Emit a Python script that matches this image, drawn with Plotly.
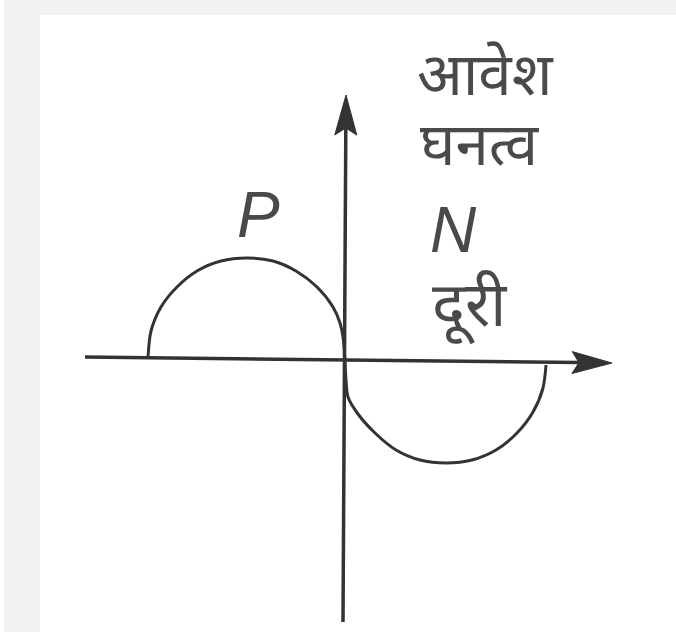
import plotly.graph_objects as go

# ---- data (distance units, charge density units; origin = junction) ----
p_dist = [-1.97, -1.94, -1.84, -1.68, -1.48, -1.24, -0.98, -0.72, -0.49, -0.28, -0.12, -0.05, -0.02, 0.0]
p_rho = [0.03, 0.29, 0.53, 0.73, 0.89, 0.99, 1.02, 0.99, 0.89, 0.73, 0.53, 0.37, 0.23, 0.0]

n_dist = [0.0, 0.01, 0.03, 0.13, 0.30, 0.51, 0.75, 1.01, 1.27, 1.51, 1.72, 1.88, 1.98, 2.01]
n_rho = [0.0, -0.20, -0.37, -0.54, -0.73, -0.90, -1.00, -1.03, -1.00, -0.90, -0.73, -0.52, -0.28, -0.05]

# axis end points (x axis: distance, y axis: charge density)
xaxis_start = (-2.60, 0.03)
xaxis_tip = (2.67, -0.03)
yaxis_start = (-0.02, -2.62)
yaxis_tip = (0.01, 2.65)

labels = {
    "density": ["आवेश", "घनत्व"],
    "distance": "दूरी",
    "p": "P",
    "n": "N",
}

LINE = "#333333"
TEXT = "#4a4a4a"

fig = go.Figure()


def arrow_head(tip, direction, length=0.40, half=0.11, notch=0.07):
    dx, dy = direction
    px, py = -dy, dx
    bx, by = tip[0] - dx * length, tip[1] - dy * length
    nx, ny = tip[0] - dx * (length - notch), tip[1] - dy * (length - notch)
    xs = [tip[0], bx + px * half, nx, bx - px * half, tip[0]]
    ys = [tip[1], by + py * half, ny, by - py * half, tip[1]]
    return xs, ys, (nx, ny)


def unit(a, b):
    vx, vy = b[0] - a[0], b[1] - a[1]
    d = (vx * vx + vy * vy) ** 0.5
    return vx / d, vy / d


for start, tip in [(xaxis_start, xaxis_tip), (yaxis_start, yaxis_tip)]:
    d = unit(start, tip)
    hx, hy, notch_pt = arrow_head(tip, d)
    fig.add_trace(go.Scatter(x=[start[0], notch_pt[0]], y=[start[1], notch_pt[1]],
                             mode="lines", line=dict(color=LINE, width=3.5),
                             hoverinfo="skip", showlegend=False))
    fig.add_trace(go.Scatter(x=hx, y=hy, mode="lines", fill="toself",
                             fillcolor=LINE, line=dict(color=LINE, width=1),
                             hoverinfo="skip", showlegend=False))

fig.add_trace(go.Scatter(x=p_dist, y=p_rho, mode="lines",
                         line=dict(color=LINE, width=3, shape="spline", smoothing=0.8),
                         hoverinfo="skip", showlegend=False))
fig.add_trace(go.Scatter(x=n_dist, y=n_rho, mode="lines",
                         line=dict(color=LINE, width=3, shape="spline", smoothing=0.8),
                         hoverinfo="skip", showlegend=False))

DEV = "Noto Sans Devanagari, Noto Sans, Lohit Devanagari, sans-serif"

ann = [
    dict(x=1.40, y=2.80, text=labels["density"][0], font=dict(size=60, family=DEV, color=TEXT)),
    dict(x=1.35, y=2.10, text=labels["density"][1], font=dict(size=60, family=DEV, color=TEXT)),
    dict(x=1.08, y=1.30, text="<i>" + labels["n"] + "</i>", font=dict(size=64, family="Liberation Sans, Arial", color=TEXT)),
    dict(x=1.24, y=0.50, text=labels["distance"], font=dict(size=62, family=DEV, color=TEXT)),
    dict(x=-0.87, y=1.45, text="<i>" + labels["p"] + "</i>", font=dict(size=64, family="Liberation Sans, Arial", color=TEXT)),
]
for a in ann:
    a.update(xref="x", yref="y", showarrow=False, xanchor="center", yanchor="middle")

fig.update_layout(
    width=676, height=632,
    margin=dict(l=40, r=0, t=15, b=0),
    paper_bgcolor="#f2f2f2",
    plot_bgcolor="#ffffff",
    xaxis=dict(range=[-3.05, 3.31], visible=False, fixedrange=True),
    yaxis=dict(range=[-2.72, 3.45], visible=False, fixedrange=True),
    annotations=ann,
    shapes=[dict(type="rect", xref="paper", yref="paper",
                 x0=-40 / 636, x1=-36 / 636, y0=0, y1=1 + 15 / 617,
                 fillcolor="#ffffff", line=dict(width=0), layer="below")],
)

fig.write_html("out.html", config={"displayModeBar": False},
               post_script="document.body.style.margin='0';document.body.style.overflow='hidden';")
